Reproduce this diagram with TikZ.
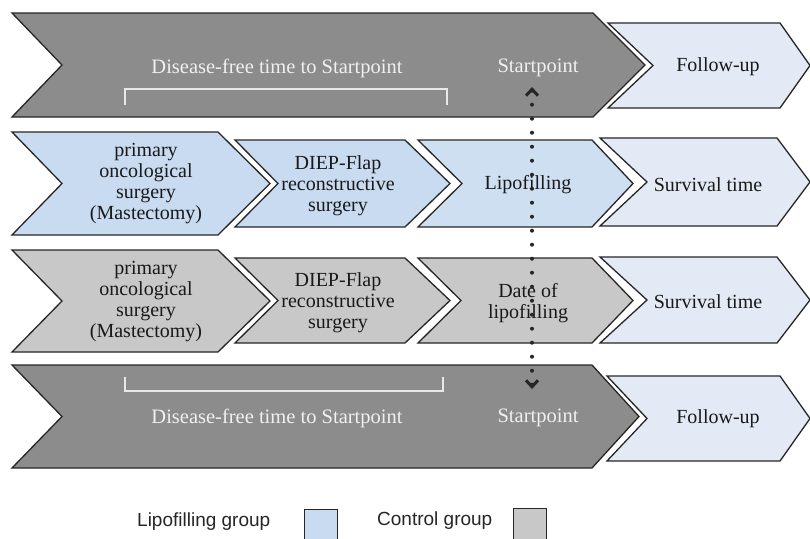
\documentclass[tikz,border=0pt]{standalone}
\usepackage{fontspec}
\setmainfont{Liberation Serif}
\newfontfamily\legendfont{Liberation Sans}
\usetikzlibrary{arrows.meta}
\definecolor{darkbox}{HTML}{8C8C8C}
\definecolor{bluebox}{HTML}{C9DBF0}
\definecolor{lipobox}{HTML}{CEDFF1}
\definecolor{palebox}{HTML}{E3EAF5}
\definecolor{greybox}{HTML}{C8C8C8}
\definecolor{brackc}{HTML}{E8E8E8}
\definecolor{dotc}{HTML}{262626}
\newcommand{\chevshape}[7]{%
  \path[chevstyle, fill=#1] (#2,#4) -- (#3,#4) -- ({#3+#7},{(#4+#5)/2}) -- (#3,#5) -- (#2,#5) -- ({#2+#6},{(#4+#5)/2}) -- cycle;}
\tikzset{barbtip/.tip={Straight Barb[length=6.5pt, width=12pt, line width=3pt]}}
\begin{document}
\begin{tikzpicture}[x=1pt,y=-1pt,
  chevstyle/.style={draw=black!85, line width=1.3pt, line join=miter},
  lab/.style={font=\fontsize{20}{21}\selectfont, align=center, text=black!90, inner sep=0pt},
  wlab/.style={lab, font=\fontsize{20.5}{21}\selectfont, text=white!94!black},
  brack/.style={draw=brackc, line width=2pt},
  dots/.style={draw=dotc, line width=4pt, line cap=round, dash pattern=on 0pt off 14pt},
  legtext/.style={font=\legendfont\fontsize{19}{22}\selectfont, text=black!85, anchor=west, inner sep=0pt},
  legbox/.style={draw=black!85, line width=1.3pt, minimum width=33pt, minimum height=32pt, anchor=north west, inner sep=0pt}]
\useasboundingbox[fill=white] (0,0) rectangle (810,538);

% Row 1: dark + follow-up
\chevshape{darkbox}{12}{593}{13}{117}{50}{52}
\chevshape{palebox}{608}{780}{23}{108}{45}{30}
% Row 2: lipofilling group
\chevshape{bluebox}{12}{218}{132}{235}{50}{52}
\chevshape{bluebox}{235}{405}{140}{227}{43}{45}
\chevshape{lipobox}{418}{592}{140}{227}{44}{41}
\chevshape{palebox}{600}{777}{138}{226}{47}{33}
% Row 3: control group
\chevshape{greybox}{12}{218}{250}{352}{50}{52}
\chevshape{greybox}{235}{405}{258}{343}{43}{45}
\chevshape{greybox}{418}{592}{258}{343}{43}{41}
\chevshape{palebox}{600}{777}{257}{343}{47}{33}
% Row 4: dark + follow-up
\chevshape{darkbox}{12}{592}{365}{468}{50}{47}
\chevshape{palebox}{607}{780}{376}{461}{40}{30}

% brackets
\draw[brack] (125,105) -- (125,89) -- (447,89) -- (447,105);
\draw[brack] (125,377) -- (125,391) -- (443,391) -- (443,377);

% texts row 1
\node[wlab] (dis1) at (277,68) {Disease-free time to Startpoint};
\node[wlab] (start1) at (538,68) {Startpoint};
\node[lab] (fol1) at (718,67) {Follow-up};
% row 2
\node[lab] (prim1) at (146,184) {primary\\oncological\\surgery\\(Mastectomy)};
\node[lab] (diep1) at (338,186) {DIEP-Flap\\reconstructive\\surgery};
\node[lab] (lipo1) at (528,185) {Lipofilling};
\node[lab] (surv1) at (708,185) {Survival time};
% row 3
\node[lab] (prim2) at (146,302) {primary\\oncological\\surgery\\(Mastectomy)};
\node[lab] (diep2) at (338,303) {DIEP-Flap\\reconstructive\\surgery};
\node[lab] (lipo2) at (528,303) {Date of\\lipofilling};
\node[lab] (surv2) at (708,302) {Survival time};
% row 4
\node[wlab] (dis2) at (277,418) {Disease-free time to Startpoint};
\node[wlab] (start2) at (538,418) {Startpoint};
\node[lab] (fol2) at (718,419) {Follow-up};

% startpoint link
\coordinate (spTop) at (532,87);
\coordinate (spBot) at (532,389);
\draw[dots, barbtip-barbtip] (spTop) -- (spBot);

% legend
\node[legtext] (leg1) at (137,522) {Lipofilling group};
\node[legbox, fill=bluebox] (legb1) at (304,509) {};
\node[legtext] (leg2) at (377,521) {Control group};
\node[legbox, fill=greybox] (legb2) at (513,508) {};
\end{tikzpicture}
\end{document}
